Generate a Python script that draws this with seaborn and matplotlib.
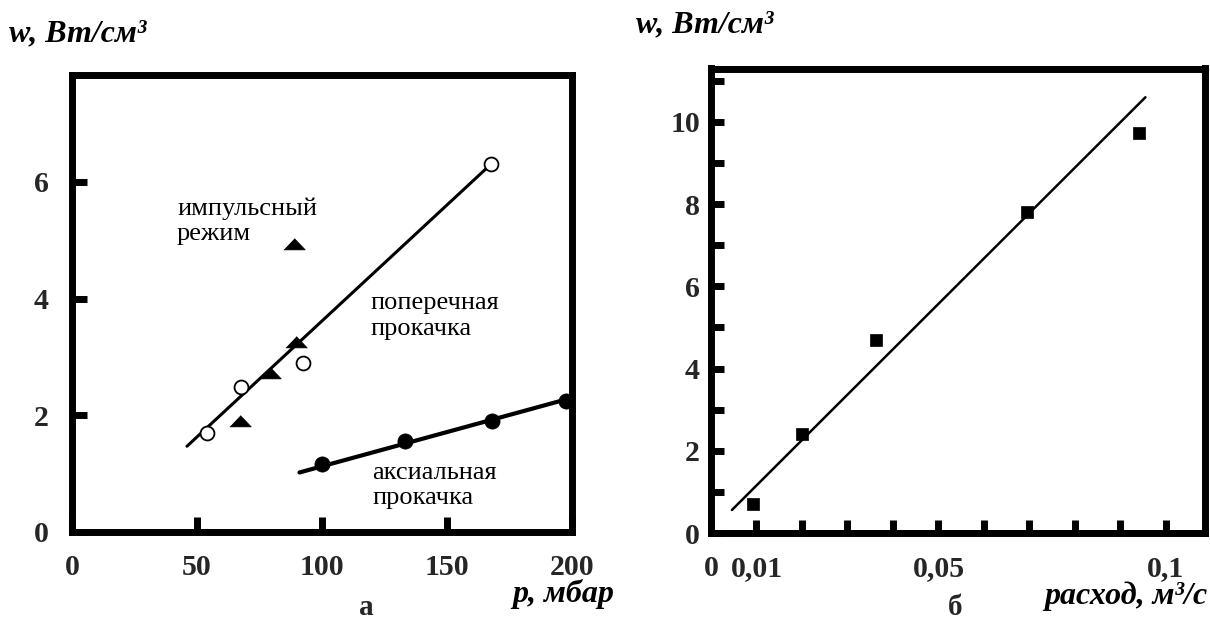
import matplotlib
matplotlib.use("Agg")
import matplotlib.pyplot as plt
import seaborn as sns

# ---- panel (а): specific power vs pressure ----
p_cross = [54, 67.6, 92.5, 167.5]          # поперечная прокачка, open circles
w_cross = [1.70, 2.49, 2.90, 6.30]
p_pulse = [67, 79.2, 89.4, 88.8]           # импульсный режим, triangles
w_pulse = [1.91, 2.72, 3.25, 4.93]
p_axial = [100, 133, 168, 197.5]           # аксиальная прокачка, filled circles
w_axial = [1.16, 1.56, 1.90, 2.24]
p_cross_fit = [46, 167.5]
w_cross_fit = [1.47, 6.30]
p_axial_fit = [91, 200]
w_axial_fit = [1.02, 2.30]
p_ticks = [0, 50, 100, 150, 200]
p_ticklabels = ["0", "50", "100", "150", "200"]
wa_ticks = [0, 2, 4, 6]
wa_ticklabels = ["0", "2", "4", "6"]

# ---- panel (б): specific power vs flow rate ----
flow = [0.0092, 0.0200, 0.0363, 0.0694, 0.0941]
w_flow = [0.71, 2.41, 4.70, 7.82, 9.72]
flow_fit = [0.0046, 0.0955]
w_flow_fit = [0.56, 10.6]
flow_ticks = [0, 0.01, 0.05, 0.1]
flow_ticklabels = ["0", "0,01", "0,05", "0,1"]
flow_minor = [0.01, 0.02, 0.03, 0.04, 0.05, 0.06, 0.07, 0.08, 0.09, 0.1]
wb_ticks = [0, 2, 4, 6, 8, 10]
wb_ticklabels = ["0", "2", "4", "6", "8", "10"]
wb_minor = [1, 3, 5, 7, 9, 11]

sns.set_theme(style="white")
plt.rcParams["font.family"] = ["Liberation Serif", "DejaVu Serif"]

W, H = 1210, 623
fig = plt.figure(figsize=(W / 100, H / 100), dpi=100)
fig.patch.set_facecolor("white")


def frac(x0, y0, x1, y1):
    return [x0 / W, 1 - y1 / H, (x1 - x0) / W, (y1 - y0) / H]


axA = fig.add_axes(frac(72, 74.5, 572, 532))
axB = fig.add_axes(frac(711, 68.5, 1205, 533))

tri = [(-1, -0.5), (1, -0.5), (0, 0.55)]

# panel а: fit lines
sns.lineplot(x=p_cross_fit, y=w_cross_fit, ax=axA, color="black", lw=2.2, zorder=2)
sns.lineplot(x=p_axial_fit, y=w_axial_fit, ax=axA, color="black", lw=3.0, zorder=2)
# panel а: points
sns.scatterplot(x=p_cross, y=w_cross, ax=axA, marker="o", s=100, color="white",
                edgecolor="black", linewidth=1.3, zorder=4, clip_on=False)
sns.scatterplot(x=p_pulse, y=w_pulse, ax=axA, marker=tri, s=240, color="black",
                edgecolor="black", linewidth=0.5, zorder=4, clip_on=False)
sns.scatterplot(x=p_axial, y=w_axial, ax=axA, marker="o", s=120, color="black",
                edgecolor="black", linewidth=0.5, zorder=4, clip_on=False)

axA.set_xlim(0, 200)
axA.set_ylim(0, 7.84)

# panel б
sns.lineplot(x=flow_fit, y=w_flow_fit, ax=axB, color="black", lw=1.8, zorder=2)
sns.scatterplot(x=flow, y=w_flow, ax=axB, marker="s", s=64, color="black",
                edgecolor="black", linewidth=0.5, zorder=4, clip_on=False)
axB.set_xlim(0, 0.1086)
axB.set_ylim(0, 11.3)

for ax in (axA, axB):
    ax.set_xlabel("")
    ax.set_ylabel("")
    ax.set_facecolor("white")
    ax.grid(False)
    for sp in ax.spines.values():
        sp.set_visible(True)
        sp.set_color("black")
        sp.set_linewidth(5)

tick_font = dict(fontsize=21.5, fontweight="bold", family=["Liberation Serif", "DejaVu Serif"])

axA.set_xticks(p_ticks)
axA.set_xticklabels(p_ticklabels, **tick_font)
axA.set_yticks(wa_ticks)
axA.set_yticklabels(wa_ticklabels, **tick_font)
axA.tick_params(axis="x", which="major", direction="in", length=10.5, width=5, pad=16,
                color="black", bottom=True, top=False)
axA.tick_params(axis="y", which="major", direction="in", length=11, width=5, pad=17,
                color="black", left=True, right=False)

axB.set_xticks(flow_ticks)
axB.set_xticklabels(flow_ticklabels, **tick_font)
axB.set_xticks(flow_minor, minor=True)
axB.set_yticks(wb_ticks)
axB.set_yticklabels(wb_ticklabels, **tick_font)
axB.set_yticks(wb_minor, minor=True)
axB.tick_params(axis="x", which="both", direction="in", length=9.5, width=5, pad=16,
                color="black", bottom=True, top=False)
axB.tick_params(axis="y", which="both", direction="in", length=9.5, width=5, pad=8,
                color="black", left=True, right=False)

# annotations inside panel а
note = dict(fontsize=19, ha="left", va="center", linespacing=1.2, color="black")
axA.text(42, 5.33, "импульсный\nрежим", **note)
axA.text(119.5, 3.70, "поперечная\nпрокачка", **note)
axA.text(120, 0.80, "аксиальная\nпрокачка", **note)

# axis titles
lab = dict(fontsize=23, fontweight="bold", style="italic", color="black")


def ftext(x, y, s, **kw):
    fig.text(x / W, 1 - y / H, s, **kw)


ftext(9, 34, "w, Вт/см³", ha="left", va="center", **lab)
ftext(636, 25, "w, Вт/см³", ha="left", va="center", **lab)
ftext(614, 594, "p, мбар", ha="right", va="center", **lab)
ftext(1208, 596, "расход, м³/с", ha="right", va="center", **lab)
ftext(366, 615, "а", ha="center", va="baseline", fontsize=21, fontweight="bold")
ftext(955, 615, "б", ha="center", va="baseline", fontsize=21, fontweight="bold")

fig.savefig("out.png", dpi=100, facecolor="white")
